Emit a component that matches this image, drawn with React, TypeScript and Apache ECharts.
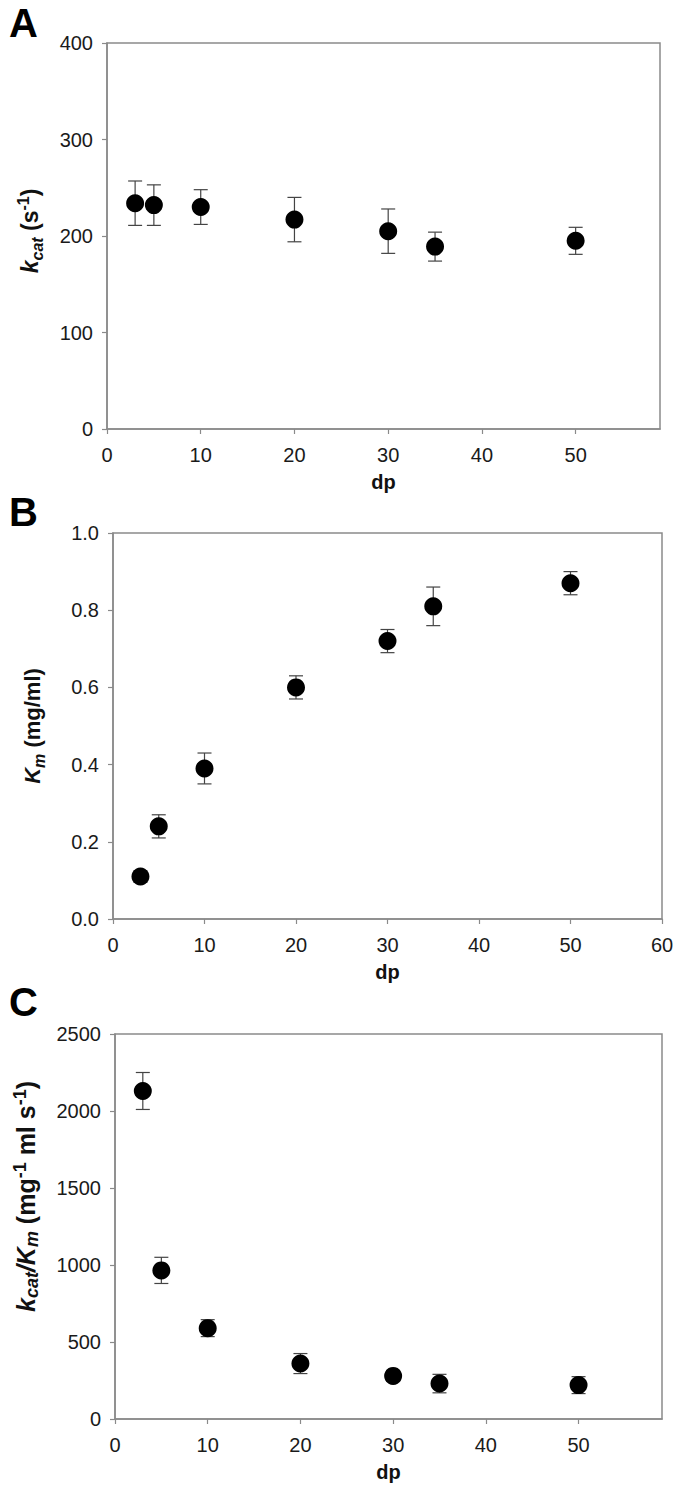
import React, { useEffect, useRef } from "react";
import * as echarts from "echarts";

const dp = [3, 5, 10, 20, 30, 35, 50];
const kcat = [234, 232, 230, 217, 205, 189, 195];
const kcatErr = [23, 21, 18, 23, 23, 15, 14];
const km = [0.11, 0.24, 0.39, 0.6, 0.72, 0.81, 0.87];
const kmErr = [0.015, 0.03, 0.04, 0.03, 0.03, 0.05, 0.03];
const eff = [2130, 965, 590, 360, 280, 230, 220];
const effErr = [120, 85, 55, 65, 35, 60, 55];

const panelLetters = ["A", "B", "C"];
const xMaxes = [59, 60, 59];
const yMins = [0, 0, 0];
const yMaxes = [400, 1.0, 2500];
const yIntervals = [100, 0.2, 500];
const yDecimals = [0, 1, 0];
const xName = "dp";

const FONT = "Liberation Sans, Arial, sans-serif";

function makeRich(big: number, small: number) {
  return {
    ki: { fontFamily: FONT, fontSize: big, fontWeight: "bold", fontStyle: "italic", color: "#111", lineHeight: 30, verticalAlign: "middle" },
    sub: { fontFamily: FONT, fontSize: small, fontWeight: "bold", fontStyle: "italic", color: "#111", lineHeight: 30, verticalAlign: "bottom" },
    sup: { fontFamily: FONT, fontSize: small, fontWeight: "bold", color: "#111", lineHeight: 30, verticalAlign: "top" },
    n: { fontFamily: FONT, fontSize: big, fontWeight: "bold", color: "#111", lineHeight: 30, verticalAlign: "middle" },
  };
}
const richSizes = [[23, 16], [22, 16], [25, 18]];

const yNames = [
  "{ki|k}{sub|cat}{n| (s}{sup|-1}{n|)}",
  "{ki|K}{sub|m}{n| (mg/ml)}",
  "{ki|k}{sub|cat}{ki|/K}{sub|m}{n| (mg}{sup|-1}{n| ml s}{sup|-1}{n|)}",
];
const yNameGaps = [62, 66, 74];
const yNamePads = [[0, 0, 0, 10], [0, 0, 0, 0], [0, 0, 0, 60]];

const grids = [
  { left: 107, top: 43, width: 553, height: 386 },
  { left: 113, top: 533, width: 549, height: 386 },
  { left: 115, top: 1034, width: 547, height: 385 },
];
const letterPos = [
  { x: 9, y: 3 },
  { x: 9, y: 492 },
  { x: 9, y: 982 },
];

function errRenderer(params: any, api: any) {
  const x = api.value(0);
  const lo = api.value(1);
  const hi = api.value(2);
  const p1 = api.coord([x, lo]);
  const p2 = api.coord([x, hi]);
  const hw = 7;
  const style = { stroke: "#444", lineWidth: 1.2 };
  return {
    type: "group",
    children: [
      { type: "line", shape: { x1: p1[0], y1: p1[1], x2: p2[0], y2: p2[1] }, style },
      { type: "line", shape: { x1: p1[0] - hw, y1: p1[1], x2: p1[0] + hw, y2: p1[1] }, style },
      { type: "line", shape: { x1: p2[0] - hw, y1: p2[1], x2: p2[0] + hw, y2: p2[1] }, style },
    ],
  };
}

export default function App() {
  const ref = useRef<HTMLDivElement>(null);
  useEffect(() => {
    if (!ref.current) return;
    const chart = echarts.init(ref.current, null, { renderer: "svg" });
    const values = [kcat, km, eff];
    const errs = [kcatErr, kmErr, effErr];
    const axisColor = "#8a8a8a";
    const option: any = {
      animation: false,
      backgroundColor: "#ffffff",
      grid: grids.map((g) => ({
        ...g,
        show: true,
        borderColor: axisColor,
        borderWidth: 1.5,
        backgroundColor: "transparent",
        outerBoundsMode: "none",
        containLabel: false,
      })),
      xAxis: grids.map((_, i) => ({
        type: "value",
        gridIndex: i,
        min: 0,
        max: xMaxes[i],
        interval: 10,
        name: xName,
        nameLocation: "middle",
        nameGap: 43,
        nameTextStyle: { fontFamily: FONT, fontSize: 20, fontWeight: "bold", color: "#111" },
        axisLine: { show: true, lineStyle: { color: axisColor, width: 1.5 } },
        axisTick: { show: true, inside: false, length: 5, lineStyle: { color: axisColor, width: 1.2 } },
        axisLabel: {
          fontFamily: FONT,
          fontSize: 20,
          color: "#1a1a1a",
          margin: 16,
          showMaxLabel: xMaxes[i] % 10 === 0,
          formatter: (v: number) => (Math.abs(v % 10) < 1e-9 ? String(v) : ""),
        },
        splitLine: { show: false },
      })),
      yAxis: grids.map((_, i) => ({
        type: "value",
        gridIndex: i,
        min: yMins[i],
        max: yMaxes[i],
        interval: yIntervals[i],
        name: yNames[i],
        nameLocation: "middle",
        nameRotate: 90,
        nameGap: yNameGaps[i],
        nameTextStyle: { rich: makeRich(richSizes[i][0], richSizes[i][1]), padding: yNamePads[i] },
        axisLine: { show: true, lineStyle: { color: axisColor, width: 1.5 } },
        axisTick: { show: true, inside: false, length: 5, lineStyle: { color: axisColor, width: 1.2 } },
        axisLabel: {
          fontFamily: FONT,
          fontSize: 20,
          color: "#1a1a1a",
          margin: 14,
          formatter: (v: number) => v.toFixed(yDecimals[i]),
        },
        splitLine: { show: false },
      })),
      graphic: panelLetters.map((t, i) => ({
        type: "text",
        left: letterPos[i].x,
        top: letterPos[i].y,
        style: { text: t, font: `bold 40px ${FONT}`, fill: "#000" },
      })),
      series: [
        ...values.map((vals, i) => ({
          type: "custom",
          xAxisIndex: i,
          yAxisIndex: i,
          renderItem: errRenderer,
          z: 1,
          data: dp.map((x, j) => [x, vals[j] - errs[i][j], vals[j] + errs[i][j]]),
          encode: { x: 0, y: [1, 2] },
        })),
        ...values.map((vals, i) => ({
          type: "scatter",
          xAxisIndex: i,
          yAxisIndex: i,
          symbol: "circle",
          symbolSize: 18,
          itemStyle: { color: "#000", opacity: 1 },
          z: 3,
          data: dp.map((x, j) => [x, vals[j]]),
        })),
      ],
    };
    chart.setOption(option);
    return () => chart.dispose();
  }, []);
  return (
    <div
      ref={ref}
      style={{ position: "absolute", left: 0, top: 0, width: 682, height: 1494 }}
    />
  );
}
